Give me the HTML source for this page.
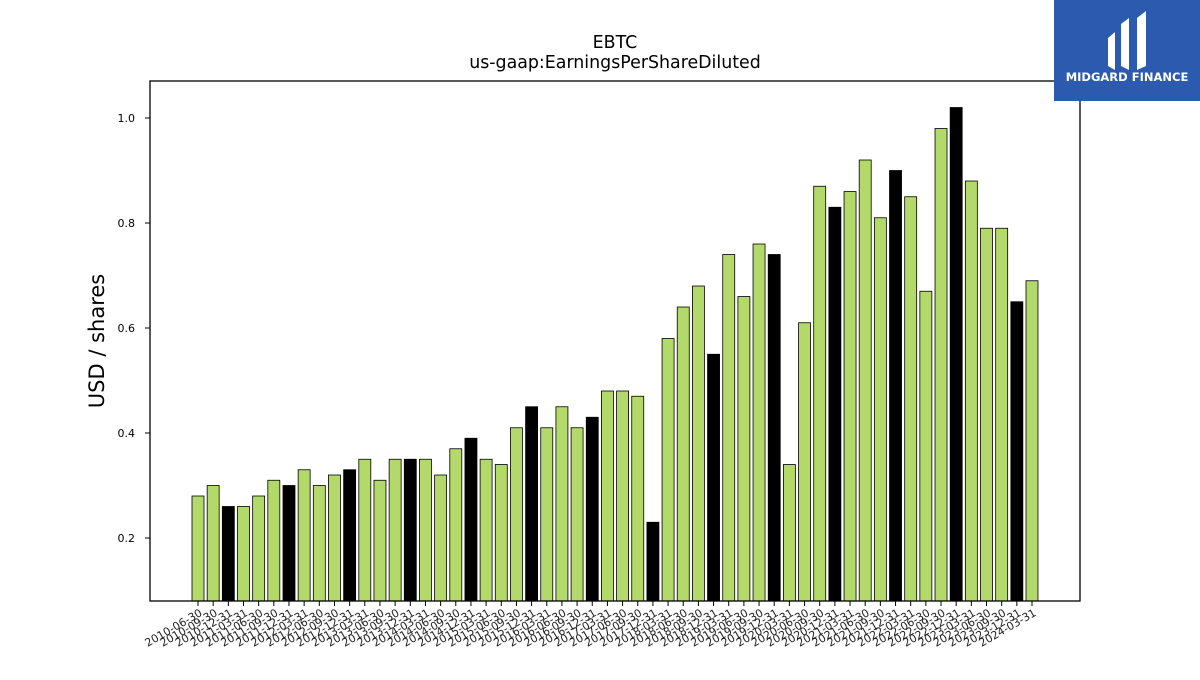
<!DOCTYPE html>
<html><head><meta charset="utf-8"><style>
body{margin:0;background:#fff;}
svg text{font-family:"DejaVu Sans","Liberation Sans",sans-serif;}
</style></head><body>
<svg id="chart" width="1200" height="675" xmlns="http://www.w3.org/2000/svg">
<rect width="1200" height="675" fill="#fff"/>
<text x="615" y="48" font-size="17.4" text-anchor="middle">EBTC</text>
<text x="615" y="68" font-size="17.4" text-anchor="middle">us-gaap:EarningsPerShareDiluted</text>
<text transform="translate(104,341) rotate(-90)" font-size="21" text-anchor="middle">USD / shares</text>
<g id="bars"></g>
<g id="yaxis"></g>
<g id="xaxis"></g>
<rect x="150" y="81" width="930" height="520" fill="none" stroke="#000" stroke-width="1.3"/>
<g>
<rect x="1054" y="0" width="146" height="101" fill="#2c5aae"/>
<path d="M1108 38 L1115 32 L1115 70 L1108 66 Z M1121 24 L1129 18 L1129 70 L1121 66 Z M1137 18 L1146 11 L1146 66 L1137 70 Z" fill="#fff"/>
<text x="1127" y="81" font-size="11.5" font-weight="bold" fill="#fff" text-anchor="middle">MIDGARD FINANCE</text>
</g>
</svg>
<script>
const categories=["2010-06-30","2010-09-30","2010-12-31","2011-03-31","2011-06-30","2011-09-30","2011-12-31","2012-03-31","2012-06-30","2012-09-30","2012-12-31","2013-03-31","2013-06-30","2013-09-30","2013-12-31","2014-03-31","2014-06-30","2014-09-30","2014-12-31","2015-03-31","2015-06-30","2015-09-30","2015-12-31","2016-03-31","2016-06-30","2016-09-30","2016-12-31","2017-03-31","2017-06-30","2017-09-30","2017-12-31","2018-03-31","2018-06-30","2018-09-30","2018-12-31","2019-03-31","2019-06-30","2019-09-30","2019-12-31","2020-03-31","2020-06-30","2020-09-30","2020-12-31","2021-03-31","2021-06-30","2021-09-30","2021-12-31","2022-03-31","2022-06-30","2022-09-30","2022-12-31","2023-03-31","2023-06-30","2023-09-30","2023-12-31","2024-03-31"];
const values=[0.28,0.30,0.26,0.26,0.28,0.31,0.30,0.33,0.30,0.32,0.33,0.35,0.31,0.35,0.35,0.35,0.32,0.37,0.39,0.35,0.34,0.41,0.45,0.41,0.45,0.41,0.43,0.48,0.48,0.47,0.23,0.58,0.64,0.68,0.55,0.74,0.66,0.76,0.74,0.34,0.61,0.87,0.83,0.86,0.92,0.81,0.90,0.85,0.67,0.98,1.02,0.88,0.79,0.79,0.65,0.69];
const yTicks=[0.2,0.4,0.6,0.8,1.0];
const yTickLabels=["0.2","0.4","0.6","0.8","1.0"];
const NS="http://www.w3.org/2000/svg";
const yMin=0.08,yMax=1.0705,plotTop=81,plotBottom=601;
function y(v){return plotBottom-(v-yMin)/(yMax-yMin)*(plotBottom-plotTop);}
const x0=198,x1=1032;
function x(i){return x0+i*(x1-x0)/(categories.length-1);}
const bw=12;
function mk(t,a){const e=document.createElementNS(NS,t);for(const k in a)e.setAttribute(k,a[k]);return e;}
const gb=document.getElementById('bars'),gx=document.getElementById('xaxis'),gy=document.getElementById('yaxis');
values.forEach((v,i)=>{
 const r=mk('rect',{x:x(i)-bw/2,y:y(v),width:bw,height:plotBottom-y(v),fill:categories[i].endsWith('12-31')?'#000':'#b2d96a',stroke:'#000','stroke-width':0.8});
 
 
 gb.appendChild(r);
 const t=mk('line',{x1:x(i),x2:x(i),y1:plotBottom,y2:plotBottom+5,stroke:'#000','stroke-width':1});
 
 
 gx.appendChild(t);
 const l=mk('text',{transform:`translate(${x(i)+5},${plotBottom+14}) rotate(-30)`,'font-size':11,'text-anchor':'end',fill:'#222'});
 l.textContent=categories[i];
 
 
 gx.appendChild(l);
});
yTicks.forEach((v,i)=>{
 const t=mk('line',{x1:145,x2:150,y1:y(v),y2:y(v),stroke:'#000','stroke-width':1});
 
 
 gy.appendChild(t);
 const l=mk('text',{x:135,y:y(v)+4,'font-size':11,'text-anchor':'end'});
 l.textContent=yTickLabels[i];
 
 
 gy.appendChild(l);
});
</script>
</body></html>
